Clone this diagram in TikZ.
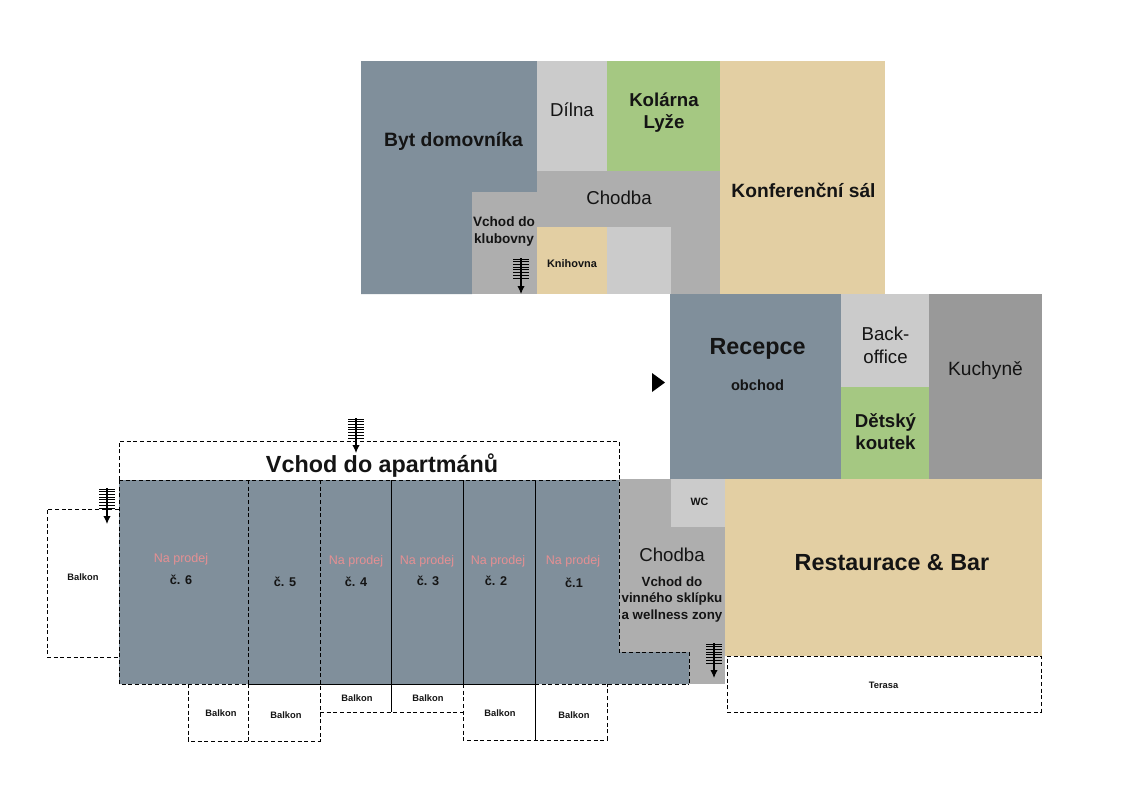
\documentclass[tikz,border=0pt]{standalone}
\usepackage{fontspec}
\setmainfont{Liberation Sans}
\usetikzlibrary{arrows.meta}
\definecolor{slate}{HTML}{808F9B}
\definecolor{lightgr}{HTML}{CBCBCB}
\definecolor{midgr}{HTML}{AEAEAE}
\definecolor{darkgr}{HTML}{999999}
\definecolor{leaf}{HTML}{A5C882}
\definecolor{sand}{HTML}{E3CFA3}
\definecolor{sale}{HTML}{E58F93}
\definecolor{ink}{HTML}{141414}
\newcommand{\fs}[1]{\fontsize{#1pt}{\dimexpr#1pt*122/100\relax}\selectfont}
\tikzset{
  lab/.style={align=center,inner sep=0pt,text=ink},
  plain/.style={lab,font=\fs{#1}},
  heavy/.style={lab,font=\fs{#1}\bfseries},
  edge/.style={densely dashed,line width=0.6pt,black},
  wall/.style={line width=0.6pt,black}
}
\begin{document}
\begin{tikzpicture}[x=0.75pt,y=-0.75pt]
  \useasboundingbox (0,0) rectangle (1123,794);

  % upper wing
  \fill[slate] (361,61) -- (537,61) -- (537,192) -- (472,192) -- (472,294) -- (361,294) -- cycle;
  \fill[midgr] (472,192) rectangle (537,294);
  \fill[lightgr] (537,61) rectangle (607,171);
  \fill[leaf] (607,61) rectangle (720,171);
  \fill[sand] (720,61) rectangle (885,294);
  \fill[midgr] (537,171) rectangle (720,294);
  \fill[sand] (537,227) rectangle (607,294);
  \fill[lightgr] (607,227) rectangle (671,294);

  % reception wing
  \fill[slate] (670,294) rectangle (841,479);
  \fill[lightgr] (841,294) rectangle (929,387);
  \fill[leaf] (841,387) rectangle (929,479);
  \fill[darkgr] (929,294) rectangle (1042,479);
  \fill[sand] (725,479) rectangle (1042,656);
  \fill[midgr] (619,479) rectangle (725,684);
  \fill[lightgr] (671,479) rectangle (725,527);

  % apartments
  \fill[slate] (119,480) -- (619,480) -- (619,652) -- (689,652) -- (689,684) -- (119,684) -- cycle;
  \draw[edge] (119,480) -- (119,441) -- (619,441) -- (619,652) -- (689,652) -- (689,684);
  \draw[edge] (119,480) -- (619,480);
  \draw[edge] (119,480) -- (119,684) -- (248,684);
  \draw[wall] (248,684) -- (535,684);
  \draw[edge] (535,684) -- (689,684);
  \foreach \x in {248,320}
    \draw[edge] (\x,480) -- (\x,684);
  \foreach \x in {391,463,535}
    \draw[wall] (\x,480) -- (\x,684);

  % balconies
  \draw[edge] (119,509) -- (47,509) -- (47,657) -- (119,657);
  \draw[edge] (188,684) -- (188,741) -- (320,741) -- (320,684);
  \draw[edge] (248,684) -- (248,741);
  \draw[edge] (320,712) -- (463,712);
  \draw[wall] (391,684) -- (391,712);
  \draw[edge] (463,684) -- (463,740) -- (607,740) -- (607,684);
  \draw[wall] (535,684) -- (535,740);
  \draw[edge] (727,656) -- (1041,656) -- (1041,712) -- (727,712) -- cycle;

  % stairs
  \foreach \x/\a/\c in {521/259/294,356/419/453,107/489/524,714/644/678} {
    \coordinate (top\x) at (\x,\a-1);
    \coordinate (end\x) at (\x,\c);
    \foreach \k in {0,...,7}
      \draw[line width=0.6pt] (\x-8,\a+\k*2.7) -- (\x+8,\a+\k*2.7);
    \draw[-{Latex[length=6pt,width=5.5pt]},line width=0.8pt] (top\x) -- (end\x);
  }

  % entrance mark
  \fill[black] (652,373) -- (665,382.5) -- (652,392) -- cycle;

  % labels
  \node[heavy=14.5] (byt) at (453.5,141) {Byt domovníka};
  \node[plain=14] (dilna) at (572,109.5) {Dílna};
  \node[heavy=14] (kolarna) at (664,112.5) {Kolárna\\Lyže};
  \node[heavy=14.4] (konf) at (803.5,190) {Konferenční sál};
  \node[plain=14] (chodba) at (619,198) {Chodba};
  \node[heavy=10.2] (klub) at (504,231.5) {Vchod do\\klubovny};
  \node[heavy=8.2] (knih) at (572,264) {Knihovna};
  \node[heavy=17.5] (rec) at (757.5,348.5) {Recepce};
  \node[heavy=11] (obchod) at (757.5,385.5) {obchod};
  \node[plain=14] (back) at (885.5,345.5) {Back-\\office};
  \node[heavy=14] (koutek) at (885.5,431.5) {Dětský\\koutek};
  \node[plain=14.4] (kuch) at (985.5,370.5) {Kuchyně};
  \node[heavy=17.5] (rest) at (892,562.5) {Restaurace \& Bar};
  \node[plain=14] (chodba2) at (672,555) {Chodba};
  \node[heavy=10] (sklip) at (672,599.5) {Vchod do\\vinného sklípku\\a wellness zony};
  \node[heavy=8] (wc) at (699.5,502) {WC};
  \node[heavy=17.5] (vchod) at (382,465.5) {Vchod do apartmánů};
  \node[heavy=7] (terasa) at (883.5,685) {Terasa};

  \foreach \x/\y/\n in {181/559/s6,356/561/s4,427/561/s3,498/561/s2,573/561/s1}
    \node[plain=9.4,text=sale] (\n) at (\x,\y) {Na prodej};
  \foreach \x/\y/\n/\t in {181/580/a6/č. 6,285/582/a5/č. 5,356/582/a4/č. 4,428/581/a3/č. 3,496/581/a2/č. 2,574/583/a1/č.1}
    \node[heavy=9.5] (\n) at (\x,\y) {\t};
  \foreach \x/\y/\n in {83/577/b6,221/713/b6a,286/715/b5,357/698/b4,428/698/b3,500/713/b2,574/715/b1}
    \node[heavy=7] (\n) at (\x,\y) {Balkon};
\end{tikzpicture}
\end{document}
